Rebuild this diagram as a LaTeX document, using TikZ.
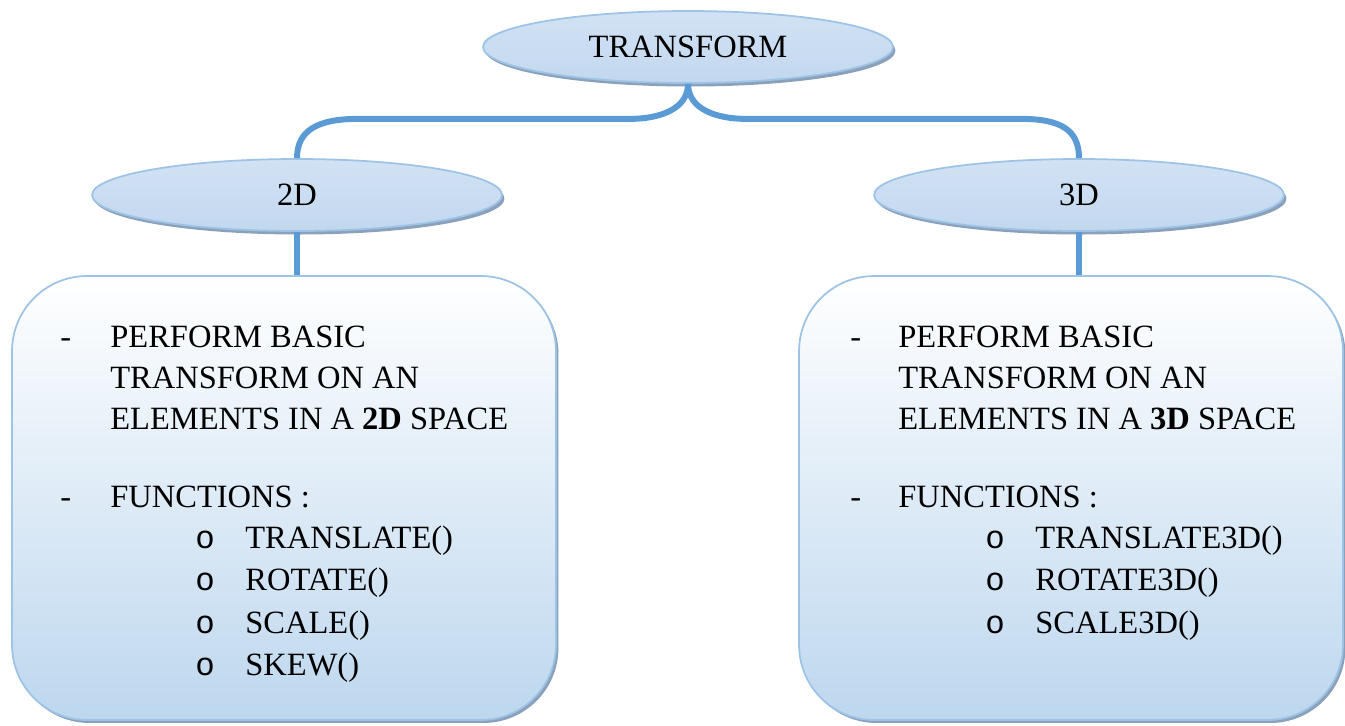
\documentclass[tikz,border=0pt]{standalone}
\usepackage{fontspec}
\setmainfont{Liberation Serif}
\newfontfamily\bulletfont{Liberation Mono}
\usetikzlibrary{shapes.geometric, shadows, positioning, calc}

\definecolor{linkblue}{HTML}{5B9BD5}
\definecolor{edgeblue}{HTML}{9DC3E6}
\definecolor{paleblue}{HTML}{BDD7EE}
\definecolor{ovaltop}{HTML}{D2E2F4}
\definecolor{ovalmid}{HTML}{E0EBF7}
\definecolor{ovalbot}{HTML}{C2D7EF}
\definecolor{shadegray}{HTML}{8BA1BB}

\tikzset{
  oval/.style={ellipse, draw=edgeblue, line width=1pt, top color=ovaltop, middle color=ovalmid, bottom color=ovalbot,
    minimum width=8.2cm, minimum height=1.44cm, inner sep=0pt,
    drop shadow={shadow xshift=0.05cm, shadow yshift=-0.07cm, fill=shadegray, opacity=1}},
  panel/.style={rectangle, rounded corners=1.5cm, draw=edgeblue, line width=1pt, top color=white, bottom color=paleblue,
    minimum width=10.88cm, minimum height=8.88cm,
    drop shadow={shadow xshift=0.05cm, shadow yshift=-0.06cm, fill=shadegray, opacity=1}},
  link/.style={draw=linkblue, line width=3.4pt},
  txt/.style={anchor=base west, inner sep=0pt},
  dot/.style={txt, font=\fontsize{18.5}{22}\bulletfont}
}

\begin{document}
\begin{tikzpicture}[x=0.02cm, y=-0.02cm, every node/.style={font=\fontsize{18.5}{22}\selectfont}]
    \useasboundingbox (0,0) rectangle (1345,725);

    % Ovals
    \node[oval] (top) at (688,47) {TRANSFORM};
    \node[oval] (d2) at (297,195) {2D};
    \node[oval] (d3) at (1079,195) {3D};

    % Panels
    \node[panel] (box2) at (284,498) {};
    \node[panel] (box3) at (1071,498) {};

    % Links
    \draw[link] (top.south) .. controls +(0,25) and +(30,0) .. ++(-58,35) -- ++(-272,0) .. controls +(-40,0) and +(0,-28) .. (d2.north);
    \draw[link] (top.south) .. controls +(0,25) and +(-30,0) .. ++(58,35) -- ++(275,0) .. controls +(40,0) and +(0,-28) .. (d3.north);
    \draw[link] (d2.south) -- (d2.south |- box2.north);
    \draw[link] (d3.south) -- (d3.south |- box3.north);

    % 2D panel text
    \node[txt] (l-dash1) at (60,347) {-};
    \node[txt] (l-line1) at (110,347) {PERFORM BASIC};
    \node[txt] (l-line2) at (110,388) {TRANSFORM ON AN};
    \node[txt] (l-line3) at (110,429) {ELEMENTS IN A \textbf{2D} SPACE};
    \node[txt] (l-dash2) at (60,507) {-};
    \node[txt] (l-func) at (110,507) {FUNCTIONS :};
    \node[dot] (l-o1) at (195,548) {o};
    \node[txt] (l-f1) at (245,548) {TRANSLATE()};
    \node[dot] (l-o2) at (195,590) {o};
    \node[txt] (l-f2) at (245,590) {ROTATE()};
    \node[dot] (l-o3) at (195,633) {o};
    \node[txt] (l-f3) at (245,633) {SCALE()};
    \node[dot] (l-o4) at (195,675) {o};
    \node[txt] (l-f4) at (245,675) {SKEW()};

    % 3D panel text
    \node[txt] (r-dash1) at (850,347) {-};
    \node[txt] (r-line1) at (898,347) {PERFORM BASIC};
    \node[txt] (r-line2) at (898,388) {TRANSFORM ON AN};
    \node[txt] (r-line3) at (898,429) {ELEMENTS IN A \textbf{3D} SPACE};
    \node[txt] (r-dash2) at (850,507) {-};
    \node[txt] (r-func) at (898,507) {FUNCTIONS :};
    \node[dot] (r-o1) at (985,548) {o};
    \node[txt] (r-f1) at (1035,548) {TRANSLATE3D()};
    \node[dot] (r-o2) at (985,590) {o};
    \node[txt] (r-f2) at (1035,590) {ROTATE3D()};
    \node[dot] (r-o3) at (985,633) {o};
    \node[txt] (r-f3) at (1035,633) {SCALE3D()};
\end{tikzpicture}
\end{document}
